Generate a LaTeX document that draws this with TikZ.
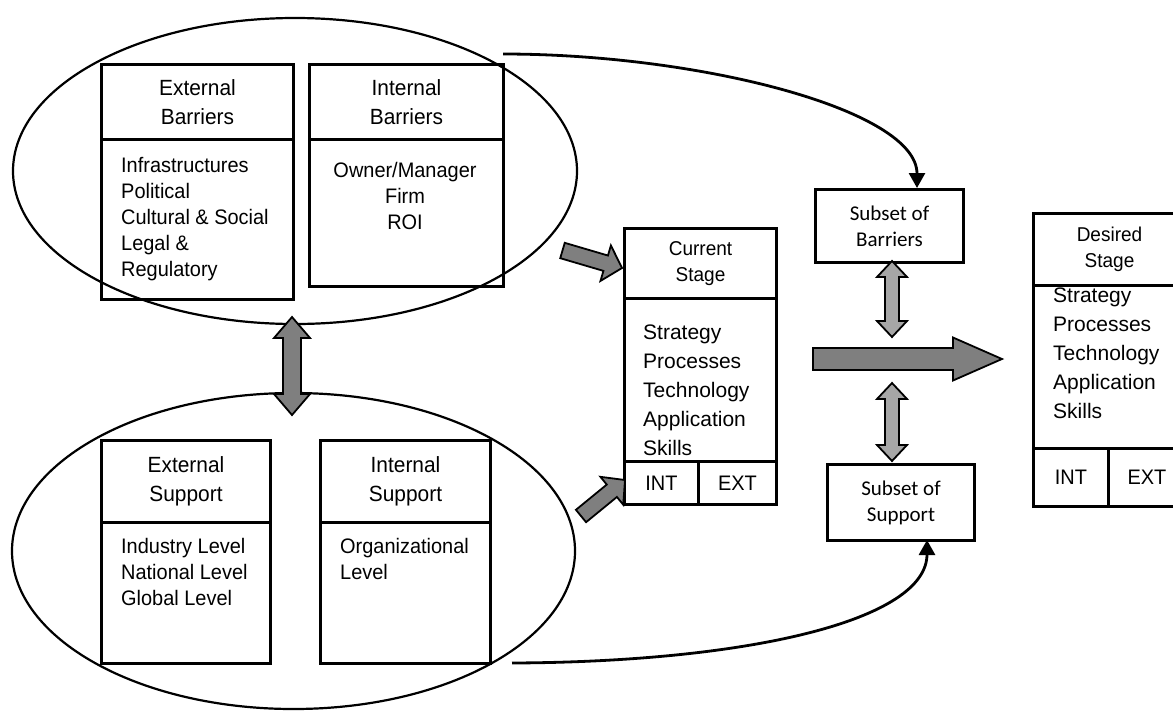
\documentclass[tikz,border=0pt]{standalone}
\usepackage{fontspec}
\setmainfont{Liberation Sans}
\newfontfamily\condf[FakeStretch=0.95]{Liberation Sans}
\newfontfamily\calf{Carlito}
\usetikzlibrary{calc,arrows.meta}
\definecolor{arrdark}{HTML}{7F7F7F}
\definecolor{arrlight}{HTML}{A6A6A6}
% single block arrow: style, tail, tip, shaft half-width, head half-width, head length
\newcommand\blkarrow[6]{%
  \coordinate (tmpH) at ($(#3)!#6!(#2)$);
  \draw[#1] ($(#2)!#4!90:(#3)$) -- ($(tmpH)!#4!90:(#3)$) -- ($(tmpH)!#5!90:(#3)$) -- (#3)
    -- ($(tmpH)!#5!-90:(#3)$) -- ($(tmpH)!#4!-90:(#3)$) -- ($(#2)!#4!-90:(#3)$) -- cycle;}
% double block arrow: style, tip A, tip B, shaft half-width, head half-width, head length
\newcommand\dblarrow[6]{%
  \coordinate (tmpA) at ($(#2)!#6!(#3)$);
  \coordinate (tmpB) at ($(#3)!#6!(#2)$);
  \draw[#1] (#2) -- ($(tmpA)!#5!90:(#3)$) -- ($(tmpA)!#4!90:(#3)$) -- ($(tmpB)!#4!-90:(#2)$)
    -- ($(tmpB)!#5!-90:(#2)$) -- (#3) -- ($(tmpB)!#5!90:(#2)$) -- ($(tmpB)!#4!90:(#2)$)
    -- ($(tmpA)!#4!-90:(#3)$) -- ($(tmpA)!#5!-90:(#3)$) -- cycle;}
\begin{document}
\begin{tikzpicture}[x=1pt,y=-1pt,
  box/.style={draw, line width=3pt, inner sep=0pt, anchor=north west, align=center},
  ell/.style={draw, line width=2.2pt},
  conn/.style={line width=2.8pt, -{Triangle[length=15pt,width=16pt]}},
  darkarr/.style={draw=black, line width=1.8pt, fill=arrdark, line join=miter},
  lightarr/.style={draw=black, line width=1.8pt, fill=arrlight, line join=miter},
  hdr/.style={font=\condf\fontsize{22}{28.5}\selectfont},
  body/.style={font=\condf\fontsize{21}{26}\selectfont, align=left, anchor=north west, inner sep=0pt},
  stagehdr/.style={font=\condf\fontsize{20}{26}\selectfont},
  stagebody/.style={font=\fontsize{21}{29}\selectfont, align=left, anchor=north west, inner sep=0pt},
  cell/.style={font=\condf\fontsize{21}{26}\selectfont},
  subset/.style={font=\calf\fontsize{21}{26}\selectfont}
]
\fill[white] (0,0) rectangle (1173,710);
\clip (0,0) rectangle (1173,710);

% ellipses
\draw[ell] (295,171) ellipse [x radius=282, y radius=153];
\draw[ell] (293.5,551) ellipse [x radius=281.5, y radius=158];

% barriers
\node[box, hdr, minimum width=192, minimum height=75] (ebh) at (100,63) {External\\Barriers};
\node[box, minimum width=192, minimum height=160] (ebb) at (100,138) {};
\node[body] (ebt) at (121,156.7) {Infrastructures\\Political\\Cultural \& Social\\Legal \&\\Regulatory};
\node[box, hdr, minimum width=194, minimum height=75] (ibh) at (308,63) {Internal\\Barriers};
\node[box, minimum width=194, minimum height=147] (ibb) at (308,138) {};
\node[body, anchor=north, align=center] (ibt) at (405,161.7) {Owner/Manager\\Firm\\ROI};

% support
\node[box, hdr, minimum width=169, minimum height=82] (esh) at (100,439) {External\\Support};
\node[box, minimum width=169, minimum height=141] (esb) at (100,521) {};
\node[body] (est) at (121,537.7) {Industry Level\\National Level\\Global Level};
\node[box, hdr, minimum width=170, minimum height=82] (ish) at (319,439) {Internal\\Support};
\node[box, minimum width=170, minimum height=141] (isb) at (319,521) {};
\node[body] (ist) at (340,537.7) {Organizational\\Level};

% current stage
\node[box, stagehdr, minimum width=152, minimum height=70] (csh) at (623,227) {Current\\Stage};
\node[box, minimum width=152, minimum height=163] (csb) at (623,297) {};
\node[stagebody] (cst) at (643,324.5) {Strategy\\Processes\\Technology\\Application\\Skills};
\node[box, cell, minimum width=74, minimum height=43] (csi) at (623,460) {INT};
\node[box, cell, minimum width=78, minimum height=43] (cse) at (697,460) {EXT};

% subsets
\node[box, subset, minimum width=148, minimum height=73] (sb) at (814,188) {Subset of\\Barriers};
\node[box, subset, minimum width=147, minimum height=76] (ss) at (826,463) {Subset of\\Support};

% desired stage
\node[box, stagehdr, minimum width=152, minimum height=72] (dsh) at (1032,212) {Desired\\Stage};
\node[box, minimum width=152, minimum height=163] (dsb) at (1032,284) {};
\node[stagebody] (dst) at (1053,287.5) {Strategy\\Processes\\Technology\\Application\\Skills};
\node[box, cell, minimum width=75, minimum height=58] (dsi) at (1032,447) {INT};
\node[box, cell, minimum width=77, minimum height=58] (dse) at (1107,447) {EXT};

% connector end points
\coordinate (eA) at (292,317);
\coordinate (eB) at (292,415);
\coordinate (u1) at (562.5,250.5);
\coordinate (u2) at (622,268);
\coordinate (l1) at (581,516);
\coordinate (l2) at (625,480);
\coordinate (sbA) at (892,261);
\coordinate (sbB) at (892,337);
\coordinate (ssA) at (892,383);
\coordinate (ssB) at (892,461);
\coordinate (bA) at (813,359);
\coordinate (bB) at (1002,359);
\coordinate (ct1) at (503,54);
\coordinate (ct2) at (917,188);
\coordinate (cb1) at (512,663);
\coordinate (cb2) at (927,540);

% block arrows
\dblarrow{darkarr}{eA}{eB}{9pt}{18pt}{21pt}
\blkarrow{darkarr}{u1}{u2}{8pt}{18.5pt}{17pt}
\blkarrow{darkarr}{l1}{l2}{8pt}{18pt}{17pt}
\dblarrow{lightarr}{sbA}{sbB}{7pt}{15pt}{16pt}
\dblarrow{lightarr}{ssA}{ssB}{7pt}{15pt}{16pt}
\blkarrow{darkarr}{bA}{bB}{11pt}{21.5pt}{49pt}

% curved connectors
\draw[conn] (ct1) .. controls (700,54) and (917,110) .. (ct2);
\draw[conn] (cb1) .. controls (750,662) and (927,620) .. (cb2);
\end{tikzpicture}
\end{document}
